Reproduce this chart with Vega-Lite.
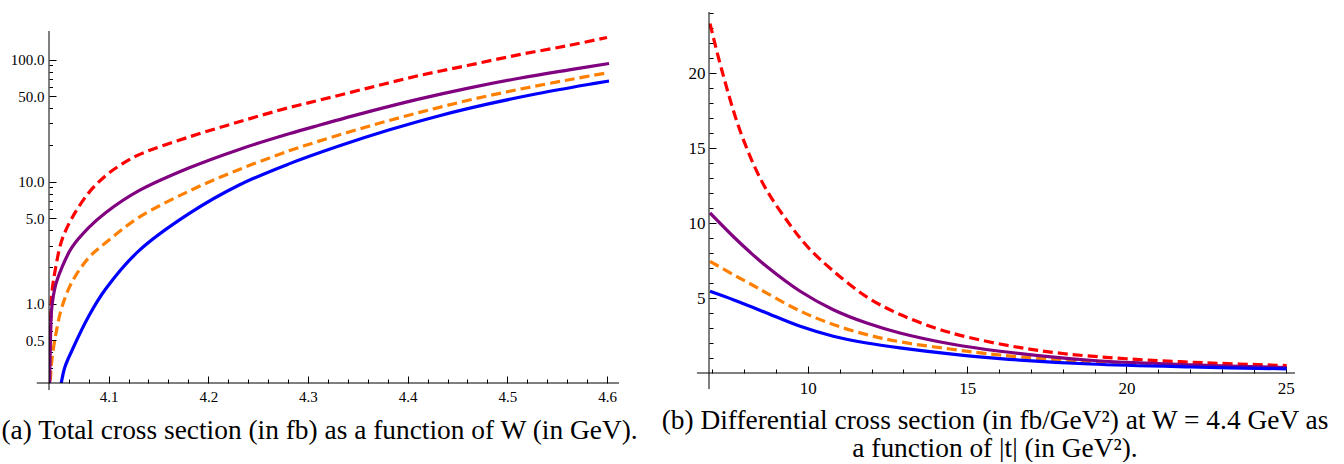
{
  "$schema": "https://vega.github.io/schema/vega-lite/v6.json",
  "padding": {"left": 0, "top": 11, "right": 0, "bottom": 0},
  "background": "white",
  "config": {
    "view": {"stroke": null},
    "font": "Liberation Serif",
    "axis": {"labelFont": "Liberation Serif", "labelColor": "#000000", "domain": false, "tickColor": "#000000", "grid": false, "labelFlush": false, "labelOverlap": false, "titleFont": "Liberation Serif", "titleFontWeight": "normal", "titleColor": "#000000", "titleFontSize": 27.4, "tickWidth": 1},
    "title": {"font": "Liberation Serif"}
  },
  "datasets": {
    "total": [
      {"s": "c1", "W": 4.0402, "sigma": 0.1}, {"s": "c1", "W": 4.0417, "sigma": 0.6}, {"s": "c1", "W": 4.043, "sigma": 1.2}, {"s": "c1", "W": 4.047, "sigma": 2.0}, {"s": "c1", "W": 4.053, "sigma": 3.3}, {"s": "c1", "W": 4.063, "sigma": 5.0}, {"s": "c1", "W": 4.08, "sigma": 8.1}, {"s": "c1", "W": 4.097, "sigma": 11.2}, {"s": "c1", "W": 4.113, "sigma": 13.9}, {"s": "c1", "W": 4.13, "sigma": 16.6}, {"s": "c1", "W": 4.181, "sigma": 23.3}, {"s": "c1", "W": 4.231, "sigma": 31.0}, {"s": "c1", "W": 4.281, "sigma": 40.5}, {"s": "c1", "W": 4.311, "sigma": 46.5}, {"s": "c1", "W": 4.361, "sigma": 58.8}, {"s": "c1", "W": 4.411, "sigma": 74.0}, {"s": "c1", "W": 4.461, "sigma": 90.0}, {"s": "c1", "W": 4.512, "sigma": 110.0}, {"s": "c1", "W": 4.562, "sigma": 131.0}, {"s": "c1", "W": 4.6, "sigma": 152.0},
      {"s": "c2", "W": 4.0403, "sigma": 0.1}, {"s": "c2", "W": 4.0417, "sigma": 0.53}, {"s": "c2", "W": 4.043, "sigma": 0.93}, {"s": "c2", "W": 4.047, "sigma": 1.44}, {"s": "c2", "W": 4.053, "sigma": 1.97}, {"s": "c2", "W": 4.063, "sigma": 2.88}, {"s": "c2", "W": 4.08, "sigma": 4.2}, {"s": "c2", "W": 4.097, "sigma": 5.57}, {"s": "c2", "W": 4.13, "sigma": 8.4}, {"s": "c2", "W": 4.181, "sigma": 13.0}, {"s": "c2", "W": 4.231, "sigma": 18.4}, {"s": "c2", "W": 4.281, "sigma": 24.7}, {"s": "c2", "W": 4.311, "sigma": 29.0}, {"s": "c2", "W": 4.361, "sigma": 37.5}, {"s": "c2", "W": 4.411, "sigma": 47.5}, {"s": "c2", "W": 4.461, "sigma": 58.5}, {"s": "c2", "W": 4.512, "sigma": 70.5}, {"s": "c2", "W": 4.562, "sigma": 82.5}, {"s": "c2", "W": 4.602, "sigma": 93.0},
      {"s": "c3", "W": 4.0405, "sigma": 0.1}, {"s": "c3", "W": 4.0412, "sigma": 0.2}, {"s": "c3", "W": 4.043, "sigma": 0.34}, {"s": "c3", "W": 4.047, "sigma": 0.56}, {"s": "c3", "W": 4.053, "sigma": 0.93}, {"s": "c3", "W": 4.063, "sigma": 1.49}, {"s": "c3", "W": 4.08, "sigma": 2.38}, {"s": "c3", "W": 4.097, "sigma": 3.16}, {"s": "c3", "W": 4.13, "sigma": 5.07}, {"s": "c3", "W": 4.181, "sigma": 8.4}, {"s": "c3", "W": 4.231, "sigma": 12.6}, {"s": "c3", "W": 4.281, "sigma": 17.9}, {"s": "c3", "W": 4.311, "sigma": 21.5}, {"s": "c3", "W": 4.361, "sigma": 28.5}, {"s": "c3", "W": 4.411, "sigma": 36.8}, {"s": "c3", "W": 4.461, "sigma": 46.5}, {"s": "c3", "W": 4.512, "sigma": 57.2}, {"s": "c3", "W": 4.562, "sigma": 68.5}, {"s": "c3", "W": 4.602, "sigma": 78.5},
      {"s": "c4", "W": 4.0515, "sigma": 0.2}, {"s": "c4", "W": 4.056, "sigma": 0.3}, {"s": "c4", "W": 4.063, "sigma": 0.41}, {"s": "c4", "W": 4.08, "sigma": 0.79}, {"s": "c4", "W": 4.097, "sigma": 1.32}, {"s": "c4", "W": 4.13, "sigma": 2.7}, {"s": "c4", "W": 4.181, "sigma": 5.5}, {"s": "c4", "W": 4.231, "sigma": 9.4}, {"s": "c4", "W": 4.281, "sigma": 14.0}, {"s": "c4", "W": 4.331, "sigma": 19.6}, {"s": "c4", "W": 4.381, "sigma": 26.5}, {"s": "c4", "W": 4.431, "sigma": 34.6}, {"s": "c4", "W": 4.481, "sigma": 43.4}, {"s": "c4", "W": 4.531, "sigma": 52.8}, {"s": "c4", "W": 4.581, "sigma": 62.6}, {"s": "c4", "W": 4.602, "sigma": 66.9}
    ],
    "diff": [
      {"s": "c1", "t": 6.93, "dsig": 23.3}, {"s": "c1", "t": 7.3, "dsig": 20.2}, {"s": "c1", "t": 7.9, "dsig": 16.0}, {"s": "c1", "t": 8.6, "dsig": 12.6}, {"s": "c1", "t": 9.4, "dsig": 10.0}, {"s": "c1", "t": 10.0, "dsig": 8.4}, {"s": "c1", "t": 10.8, "dsig": 6.8}, {"s": "c1", "t": 11.9, "dsig": 5.0}, {"s": "c1", "t": 12.9, "dsig": 3.9}, {"s": "c1", "t": 14.0, "dsig": 3.0}, {"s": "c1", "t": 15.0, "dsig": 2.4}, {"s": "c1", "t": 16.5, "dsig": 1.75}, {"s": "c1", "t": 18.0, "dsig": 1.3}, {"s": "c1", "t": 20.0, "dsig": 0.95}, {"s": "c1", "t": 22.5, "dsig": 0.68}, {"s": "c1", "t": 25.03, "dsig": 0.5},
      {"s": "c2", "t": 6.93, "dsig": 10.67}, {"s": "c2", "t": 7.66, "dsig": 9.1}, {"s": "c2", "t": 8.19, "dsig": 8.05}, {"s": "c2", "t": 8.71, "dsig": 7.1}, {"s": "c2", "t": 9.76, "dsig": 5.45}, {"s": "c2", "t": 10.8, "dsig": 4.22}, {"s": "c2", "t": 11.85, "dsig": 3.33}, {"s": "c2", "t": 12.89, "dsig": 2.67}, {"s": "c2", "t": 14.46, "dsig": 1.95}, {"s": "c2", "t": 16.03, "dsig": 1.45}, {"s": "c2", "t": 18.86, "dsig": 0.85}, {"s": "c2", "t": 22.0, "dsig": 0.55}, {"s": "c2", "t": 25.03, "dsig": 0.36},
      {"s": "c3", "t": 6.93, "dsig": 7.45}, {"s": "c3", "t": 7.66, "dsig": 6.56}, {"s": "c3", "t": 8.19, "dsig": 5.95}, {"s": "c3", "t": 8.71, "dsig": 5.33}, {"s": "c3", "t": 9.76, "dsig": 4.13}, {"s": "c3", "t": 10.8, "dsig": 3.23}, {"s": "c3", "t": 11.85, "dsig": 2.56}, {"s": "c3", "t": 12.89, "dsig": 2.08}, {"s": "c3", "t": 14.46, "dsig": 1.6}, {"s": "c3", "t": 16.03, "dsig": 1.2}, {"s": "c3", "t": 18.86, "dsig": 0.72}, {"s": "c3", "t": 22.0, "dsig": 0.47}, {"s": "c3", "t": 25.03, "dsig": 0.33},
      {"s": "c4", "t": 6.93, "dsig": 5.45}, {"s": "c4", "t": 7.66, "dsig": 4.89}, {"s": "c4", "t": 8.19, "dsig": 4.45}, {"s": "c4", "t": 8.71, "dsig": 4.0}, {"s": "c4", "t": 9.76, "dsig": 3.11}, {"s": "c4", "t": 10.8, "dsig": 2.45}, {"s": "c4", "t": 11.85, "dsig": 2.0}, {"s": "c4", "t": 12.89, "dsig": 1.67}, {"s": "c4", "t": 14.46, "dsig": 1.27}, {"s": "c4", "t": 16.03, "dsig": 0.96}, {"s": "c4", "t": 18.86, "dsig": 0.6}, {"s": "c4", "t": 22.0, "dsig": 0.4}, {"s": "c4", "t": 25.03, "dsig": 0.28}
    ]
  },
  "spacing": 22,
  "hconcat": [
    {
      "width": 570,
      "height": 371,
      "data": {"name": "total"},
      "resolve": {"axis": {"x": "independent", "y": "independent"}},
      "layer": [
        {
          "transform": [{"filter": "datum.s == 'c1' || datum.s == 'c3'"}],
          "mark": {"type": "line", "clip": true, "strokeWidth": 3.2, "strokeDash": [10, 5], "interpolate": "catmull-rom"},
          "encoding": {
            "x": {"field": "W", "type": "quantitative", "scale": {"domain": [4.0402, 4.612], "nice": false, "zero": false},
              "axis": {"orient": "bottom", "values": [4.1, 4.2, 4.3, 4.4, 4.5, 4.6], "format": ".1f", "tickSize": -7, "labelPadding": 13, "labelFontSize": 15,
                "title": "(a) Total cross section (in fb) as a function of W (in GeV).", "titleX": 270, "titleY": 55, "titleBaseline": "alphabetic", "titleAlign": "center"}},
            "y": {"field": "sigma", "type": "quantitative", "scale": {"type": "log", "domain": [0.224, 246], "nice": false},
              "axis": {"orient": "left", "values": [0.5, 1, 5, 10, 50, 100], "format": ".1f", "tickSize": -7, "labelPadding": 12, "labelFontSize": 15, "title": null}},
            "color": {"field": "s", "type": "nominal", "scale": {"domain": ["c1", "c2", "c3", "c4"], "range": ["#ff0000", "#800080", "#ff8000", "#0000ff"]}, "legend": null}
          }
        },
        {
          "transform": [{"filter": "datum.s == 'c2' || datum.s == 'c4'"}],
          "mark": {"type": "line", "clip": true, "strokeWidth": 3.2, "interpolate": "catmull-rom"},
          "encoding": {
            "x": {"field": "W", "type": "quantitative", "scale": {"domain": [4.0402, 4.612], "nice": false, "zero": false},
              "axis": {"orient": "bottom", "values": [4.06, 4.08, 4.12, 4.14, 4.16, 4.18, 4.22, 4.24, 4.26, 4.28, 4.32, 4.34, 4.36, 4.38, 4.42, 4.44, 4.46, 4.48, 4.52, 4.54, 4.56, 4.58], "labels": false, "tickSize": -4, "title": null}},
            "y": {"field": "sigma", "type": "quantitative", "scale": {"type": "log", "domain": [0.224, 246], "nice": false},
              "axis": {"orient": "left", "values": [0.3, 0.4, 0.6, 0.7, 0.8, 0.9, 2, 3, 4, 6, 7, 8, 9, 20, 30, 40, 60, 70, 80, 90], "labels": false, "tickSize": -3.5, "title": null}},
            "color": {"field": "s", "type": "nominal", "scale": {"domain": ["c1", "c2", "c3", "c4"], "range": ["#ff0000", "#800080", "#ff8000", "#0000ff"]}, "legend": null}
          }
        },
        {
          "data": {"values": [{}]},
          "mark": {"type": "rule", "color": "#000000", "strokeWidth": 1},
          "encoding": {
            "x": {"datum": 4.0402, "type": "quantitative", "scale": {"domain": [4.0402, 4.612], "nice": false, "zero": false}, "axis": null},
            "y": {"datum": 0.196, "type": "quantitative", "scale": {"type": "log", "domain": [0.224, 246], "nice": false}, "axis": null},
            "y2": {"datum": 171.8}
          }
        },
        {
          "data": {"values": [{}]},
          "mark": {"type": "rule", "color": "#000000", "strokeWidth": 1},
          "encoding": {
            "x": {"datum": 4.028, "type": "quantitative", "scale": {"domain": [4.0402, 4.612], "nice": false, "zero": false}, "axis": null},
            "x2": {"datum": 4.612},
            "y": {"datum": 0.224, "type": "quantitative", "scale": {"type": "log", "domain": [0.224, 246], "nice": false}, "axis": null}
          }
        }
      ]
    },
    {
      "width": 586,
      "height": 361,
      "data": {"name": "diff"},
      "resolve": {"axis": {"x": "independent", "y": "independent"}},
      "layer": [
        {
          "transform": [{"filter": "datum.s == 'c1' || datum.s == 'c3'"}],
          "mark": {"type": "line", "clip": true, "strokeWidth": 3.2, "strokeDash": [10, 5], "interpolate": "catmull-rom"},
          "encoding": {
            "x": {"field": "t", "type": "quantitative", "scale": {"domain": [6.899, 25.29], "nice": false, "zero": false},
              "axis": {"orient": "bottom", "values": [10, 15, 20, 25], "tickSize": -7, "labelPadding": 14, "labelFontSize": 17,
                "title": ["(b) Differential cross section (in fb/GeV²) at W = 4.4 GeV as", "a function of |t| (in GeV²)."], "titleX": 285.5, "titleY": 55, "titleBaseline": "alphabetic", "titleAlign": "center", "titleLineHeight": 28}},
            "y": {"field": "dsig", "type": "quantitative", "scale": {"domain": [0, 24.07], "nice": false},
              "axis": {"orient": "left", "values": [5, 10, 15, 20], "tickSize": -7, "labelPadding": 11, "labelFontSize": 17, "title": null}},
            "color": {"field": "s", "type": "nominal", "scale": {"domain": ["c1", "c2", "c3", "c4"], "range": ["#ff0000", "#800080", "#ff8000", "#0000ff"]}, "legend": null}
          }
        },
        {
          "transform": [{"filter": "datum.s == 'c2' || datum.s == 'c4'"}],
          "mark": {"type": "line", "clip": true, "strokeWidth": 3.2, "interpolate": "catmull-rom"},
          "encoding": {
            "x": {"field": "t", "type": "quantitative", "scale": {"domain": [6.899, 25.29], "nice": false, "zero": false},
              "axis": {"orient": "bottom", "values": [7, 8, 9, 11, 12, 13, 14, 16, 17, 18, 19, 21, 22, 23, 24], "labels": false, "tickSize": -4, "title": null}},
            "y": {"field": "dsig", "type": "quantitative", "scale": {"domain": [0, 24.07], "nice": false},
              "axis": {"orient": "left", "values": [1, 2, 3, 4, 6, 7, 8, 9, 11, 12, 13, 14, 16, 17, 18, 19, 21, 22, 23, 24], "labels": false, "tickSize": -4, "title": null}},
            "color": {"field": "s", "type": "nominal", "scale": {"domain": ["c1", "c2", "c3", "c4"], "range": ["#ff0000", "#800080", "#ff8000", "#0000ff"]}, "legend": null}
          }
        },
        {
          "data": {"values": [{}]},
          "mark": {"type": "rule", "color": "#000000", "strokeWidth": 1},
          "encoding": {
            "x": {"datum": 6.899, "type": "quantitative", "scale": {"domain": [6.899, 25.29], "nice": false, "zero": false}, "axis": null},
            "y": {"datum": -1.07, "type": "quantitative", "scale": {"domain": [0, 24.07], "nice": false}, "axis": null},
            "y2": {"datum": 24.07}
          }
        },
        {
          "data": {"values": [{}]},
          "mark": {"type": "rule", "color": "#000000", "strokeWidth": 1},
          "encoding": {
            "x": {"datum": 6.52, "type": "quantitative", "scale": {"domain": [6.899, 25.29], "nice": false, "zero": false}, "axis": null},
            "x2": {"datum": 25.29},
            "y": {"datum": 0, "type": "quantitative", "scale": {"domain": [0, 24.07], "nice": false}, "axis": null}
          }
        }
      ]
    }
  ]
}
